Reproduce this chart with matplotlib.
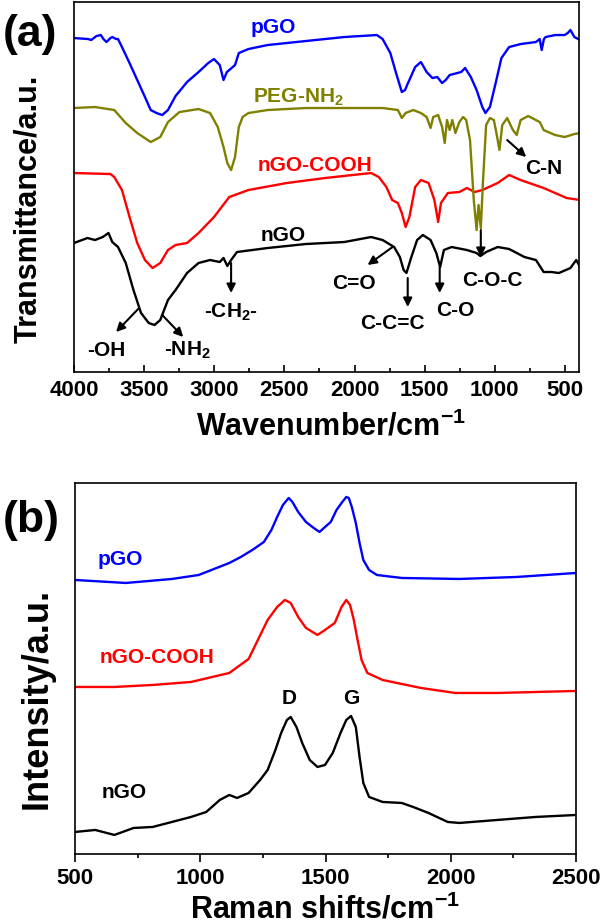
import matplotlib
matplotlib.use("Agg")
import matplotlib.pyplot as plt
from matplotlib.ticker import MultipleLocator

plt.rcParams['font.family'] = 'Liberation Sans'
plt.rcParams['font.weight'] = 'bold'
plt.rcParams['axes.labelweight'] = 'bold'
plt.rcParams['mathtext.fontset'] = 'custom'
plt.rcParams['mathtext.rm'] = 'Liberation Sans:bold'
plt.rcParams['mathtext.it'] = 'Liberation Sans:bold'
plt.rcParams['mathtext.bf'] = 'Liberation Sans:bold'
plt.rcParams['mathtext.default'] = 'rm'

# ---- (a) FTIR spectra: wavenumber (cm-1) vs transmittance (a.u.) ----
pgo_wn = [4000, 3900, 3877, 3840, 3809, 3790, 3768, 3740, 3727, 3700,
          3686, 3658, 3604, 3549, 3494, 3453, 3412, 3371, 3330, 3276,
          3194, 3112, 3043, 3002, 2961, 2934, 2910, 2893, 2852, 2825,
          2756, 2620, 2347, 2073, 1841, 1800, 1745, 1704, 1663, 1640,
          1622, 1568, 1527, 1486, 1445, 1410, 1376, 1350, 1322, 1267,
          1240, 1212, 1171, 1130, 1089, 1067, 1035, 994, 953, 898,
          816, 707, 680, 666, 650, 638, 570, 502, 480, 461, 433, 392]
pgo_t = [334, 333, 332, 336, 337, 333, 330, 334, 335, 333,
         333, 325, 309, 292, 275, 262, 259, 257, 262, 276,
         290, 300, 309, 313, 307, 292, 300, 302, 307, 319,
         323, 327, 331, 335, 337, 333, 319, 299, 280, 282,
         288, 305, 310, 300, 294, 295, 289, 292, 297, 299,
         300, 304, 295, 282, 265, 259, 265, 289, 314, 325,
         328, 330, 333, 322, 333, 335, 337, 337, 339, 342, 335, 332]

peg_wn = [4000, 3850, 3713, 3631, 3549, 3453, 3385, 3330, 3248, 3112,
          3030, 2975, 2934, 2907, 2880, 2852, 2825, 2798, 2756, 2620,
          2347, 1800, 1691, 1663, 1636, 1581, 1527, 1486, 1458, 1439,
          1404, 1376, 1357, 1341, 1322, 1303, 1281, 1253, 1226, 1204,
          1177, 1150, 1130, 1116, 1100, 1084, 1062, 1035, 1007, 986,
          967, 947, 912, 871, 844, 816, 762, 680, 652, 570, 502, 433, 392]
peg_t = [264, 265, 262, 249, 239, 230, 235, 250, 260, 263,
         259, 245, 225, 209, 202, 215, 245, 255, 259, 262,
         264, 264, 262, 254, 259, 262, 259, 255, 244, 255,
         257, 245, 229, 252, 242, 252, 239, 250, 255, 252,
         232, 172, 142, 167, 144, 192, 247, 254, 252, 237,
         222, 247, 254, 242, 237, 252, 256, 250, 242, 237, 235, 238, 239]

cooh_wn = [4000, 3740, 3713, 3658, 3604, 3549, 3494, 3440, 3385, 3330,
           3276, 3194, 3112, 3002, 2893, 2756, 2483, 2210, 1882, 1827,
           1773, 1732, 1691, 1663, 1636, 1609, 1568, 1527, 1472, 1431,
           1404, 1384, 1335, 1253, 1199, 1144, 1089, 980, 898, 816,
           652, 488, 392]
cooh_t = [199, 198, 195, 182, 155, 129, 112, 104, 109, 122,
          127, 129, 139, 155, 175, 182, 189, 194, 199, 195,
          185, 172, 169, 159, 145, 155, 185, 192, 189, 172,
          150, 169, 179, 180, 184, 180, 182, 189, 197, 192,
          184, 174, 172]

ngo_wn = [4000, 3904, 3850, 3795, 3754, 3727, 3686, 3631, 3576, 3522,
          3467, 3426, 3385, 3330, 3276, 3194, 3112, 3030, 2961, 2934,
          2907, 2880, 2838, 2620, 2347, 2073, 1882, 1800, 1718, 1677,
          1650, 1630, 1595, 1554, 1513, 1458, 1417, 1390, 1363, 1308,
          1199, 1130, 1103, 1062, 980, 898, 789, 707, 652, 597,
          543, 461, 420, 392]
ngo_t = [129, 134, 132, 135, 139, 130, 125, 109, 82, 59,
         49, 47, 52, 72, 82, 99, 109, 112, 110, 114,
         106, 112, 120, 124, 128, 130, 135, 132, 125, 115,
         102, 99, 115, 132, 137, 132, 119, 105, 122, 125,
         122, 119, 116, 120, 125, 123, 115, 112, 100, 100,
         99, 104, 112, 105]

# ---- (b) Raman spectra: shift (cm-1) vs intensity (a.u.) ----
r_pgo_x = [500, 703, 887, 994, 1116, 1162, 1208, 1254, 1284, 1307,
           1330, 1353, 1368, 1391, 1422, 1453, 1476, 1498, 1521, 1544,
           1567, 1583, 1593, 1605, 1621, 1636, 1651, 1674, 1705, 1804,
           2034, 2263, 2500]
r_pgo_y = [274, 271, 275, 279, 291, 297, 304, 312, 324, 337,
           349, 356, 352, 342, 332, 326, 322, 327, 332, 344,
           352, 357, 356, 347, 331, 311, 294, 284, 279, 276,
           275, 277, 281]

r_cooh_x = [500, 657, 810, 963, 1116, 1193, 1269, 1307, 1338, 1361,
            1391, 1422, 1468, 1498, 1537, 1564, 1583, 1598, 1613, 1628,
            1644, 1667, 1728, 1881, 2018, 2186, 2500]
r_cooh_y = [167, 167, 169, 172, 181, 195, 234, 247, 254, 251,
            237, 226, 219, 224, 231, 247, 254, 249, 234, 214,
            194, 181, 174, 166, 161, 161, 163]

r_ngo_x = [500, 581, 657, 734, 810, 887, 963, 1024, 1078, 1116,
           1147, 1193, 1239, 1269, 1300, 1323, 1346, 1361, 1384, 1407,
           1437, 1468, 1498, 1529, 1560, 1583, 1602, 1621, 1636, 1651,
           1674, 1728, 1804, 1850, 1911, 1988, 2034, 2186, 2339, 2500]
r_ngo_y = [22, 24, 19, 26, 27, 32, 37, 42, 54, 59,
           56, 61, 74, 84, 104, 121, 134, 137, 127, 111,
           94, 87, 89, 101, 121, 134, 138, 127, 97, 71,
           57, 52, 51, 47, 41, 32, 31, 34, 37, 39]

fig = plt.figure(figsize=(6, 9.24), dpi=100)
ax1 = fig.add_axes([0.1233, 0.5974, 0.8417, 0.4004])
ax2 = fig.add_axes([0.125, 0.0758, 0.835, 0.4015])

lw = 1.7
ax1.plot(ngo_wn, ngo_t, color='black', lw=lw)
ax1.plot(cooh_wn, cooh_t, color='#ff0000', lw=lw)
ax1.plot(pgo_wn, pgo_t, color='#0000ff', lw=lw)
ax1.plot(peg_wn, peg_t, color='#808000', lw=lw)

ax1.set_xlim(4000, 400)
ax1.set_ylim(0, 370)
ax1.set_yticks([])
ax1.set_xticks(range(4000, 499, -500))
ax1.xaxis.set_minor_locator(MultipleLocator(250))
ax1.tick_params(axis='x', which='major', direction='in', length=5, width=1.2,
                labelsize=16, pad=6, top=False)
ax1.tick_params(axis='x', which='minor', direction='in', length=3, width=1.2, top=False)
ax1.set_xlabel('Wavenumber/cm$^{-1}$', fontsize=22)
ax1.xaxis.set_label_coords(0.51, -0.149)
ax1.xaxis.label.set_va('center')
ax1.set_ylabel('Transmittance/a.u.', fontsize=22)
ax1.yaxis.set_label_coords(-0.09, 0.44)
ax1.yaxis.label.set_va('center')

# series labels
ax1.text(2579, 345, 'pGO', color='#0000ff', fontsize=15, ha='center', va='center')
ax1.text(2400, 275, 'PEG-NH$_2$', color='#808000', fontsize=15, ha='center', va='center')
ax1.text(2279, 207, 'nGO-COOH', color='#ff0000', fontsize=15, ha='center', va='center')
ax1.text(2511, 137, 'nGO', color='black', fontsize=15, ha='center', va='center')

# band assignments: (label, arrow tail, arrow head, text position)
bands = [
    ('-OH', (3536, 64), (3700, 40), (3768, 22)),
    ('-NH$_2$', (3371, 57), (3221, 35), (3193, 22)),
    ('-CH$_2$-', (2880, 109), (2880, 79), (2880, 60)),
    ('C=O', (1729, 125), (1907, 107), (2006, 89)),
    ('C-C=C', (1621, 94), (1621, 65), (1729, 49)),
    ('C-O', (1393, 105), (1393, 79), (1279, 62)),
    ('C-O-C', (1100, 142), (1100, 115), (1021, 92)),
    ('C-N', (912, 232), (776, 215), (650, 204)),
]
for name, tail, head, pos in bands:
    ax1.annotate('', xy=head, xytext=tail,
                 arrowprops=dict(arrowstyle='-|>', color='black', lw=1.5,
                                 mutation_scale=13, shrinkA=0, shrinkB=0))
    ax1.text(pos[0], pos[1], name, fontsize=15, ha='center', va='center')

ax2.plot(r_ngo_x, r_ngo_y, color='black', lw=lw)
ax2.plot(r_cooh_x, r_cooh_y, color='#ff0000', lw=lw)
ax2.plot(r_pgo_x, r_pgo_y, color='#0000ff', lw=lw)

ax2.set_xlim(500, 2500)
ax2.set_ylim(0, 371)
ax2.set_yticks([])
ax2.set_xticks([500, 1000, 1500, 2000, 2500])
ax2.xaxis.set_minor_locator(MultipleLocator(250))
ax2.tick_params(axis='x', which='major', direction='out', length=6, width=1.2,
                labelsize=16, pad=4, top=False)
ax2.tick_params(axis='x', which='minor', direction='out', length=3, width=1.2, top=False)
ax2.set_xlabel('Raman shifts/cm$^{-1}$', fontsize=22)
ax2.xaxis.set_label_coords(0.5, -0.151)
ax2.xaxis.label.set_va('center')
ax2.set_ylabel('Intensity/a.u.', fontsize=26)
ax2.yaxis.set_label_coords(-0.075, 0.42)
ax2.yaxis.label.set_va('center')

ax2.text(681, 294, 'pGO', color='#0000ff', fontsize=15, ha='center', va='center')
ax2.text(827, 196, 'nGO-COOH', color='#ff0000', fontsize=15, ha='center', va='center')
ax2.text(696, 61, 'nGO', color='black', fontsize=15, ha='center', va='center')
ax2.text(1354, 155, 'D', color='black', fontsize=15, ha='center', va='center')
ax2.text(1602, 155, 'G', color='black', fontsize=15, ha='center', va='center')

for ax in (ax1, ax2):
    for sp in ax.spines.values():
        sp.set_linewidth(1.2)

fig.text(0.05, 0.963, '(a)', fontsize=32, ha='center', va='center')
fig.text(0.052, 0.437, '(b)', fontsize=32, ha='center', va='center')

fig.savefig('out.png', dpi=100)
